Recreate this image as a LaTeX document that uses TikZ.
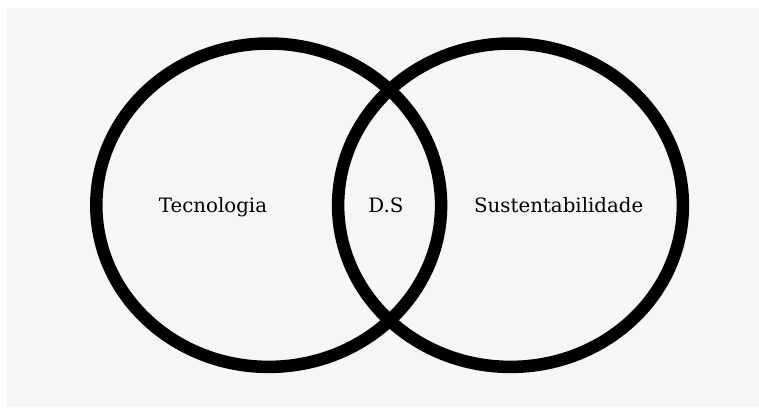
\documentclass[tikz,border=0pt]{standalone}
\usepackage{fontspec}
\setmainfont{DejaVu Serif}
\definecolor{paper}{HTML}{F6F6F6}
\begin{document}
\begin{tikzpicture}[x=1pt,y=-1pt,
  ring/.style={draw=black,line width=12.5pt},
  label/.style={font=\fontsize{19.8}{22}\selectfont,text=black,inner sep=0pt,anchor=base}]
  % page and paper sheet
  \useasboundingbox (0,0) rectangle (759,407);
  \fill[white] (0,0) rectangle (759,407);
  \fill[paper] (7,7.5) rectangle (759,407);
  % the two overlapping sets
  \draw[ring] (268.7,205.2) ellipse [x radius=172.4, y radius=161.7];
  \draw[ring] (510.5,205.2) ellipse [x radius=172.4, y radius=161.7];
  % set labels
  \node[label] (tec) at (213,212.7) {Tecnologia};
  \node[label] (ds) at (386,212.7) {D.S};
  \node[label] (sus) at (558.7,212.7) {Sustentabilidade};
\end{tikzpicture}
\end{document}
